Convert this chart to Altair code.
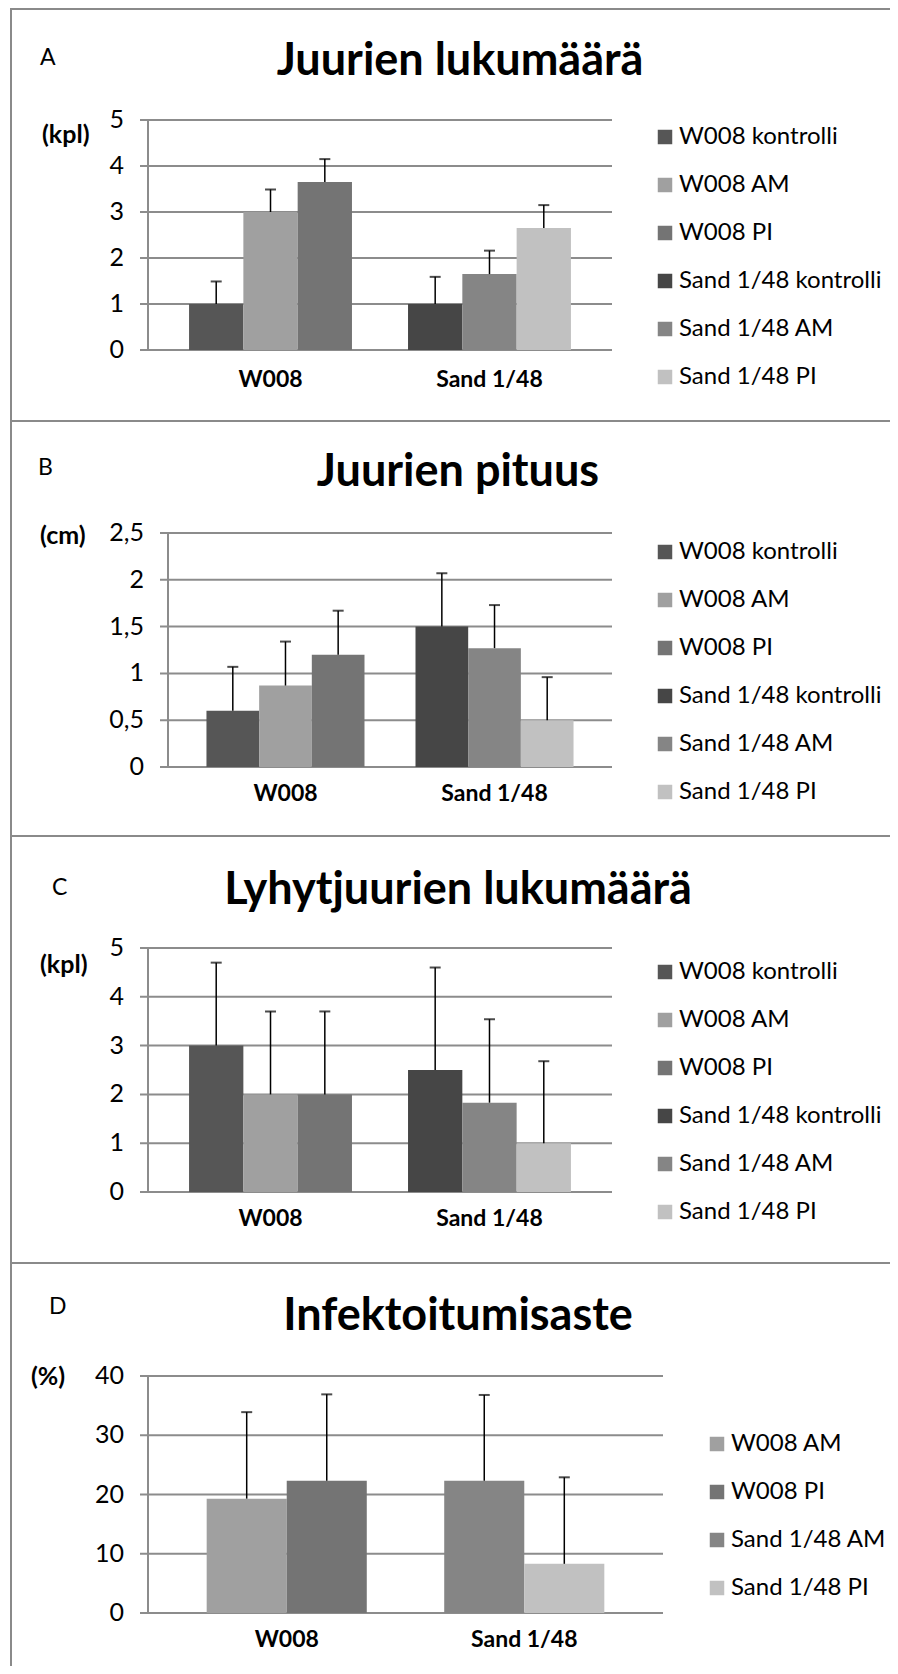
import altair as alt
import pandas as pd

FONT = "Lato"
GRID = "#8c8c8c"
BORDER = "#8a8a8a"

groups = ["W008", "Sand 1/48"]
treat3 = ["kontrolli", "AM", "PI"]
treat2 = ["AM", "PI"]

series6 = ["W008 kontrolli", "W008 AM", "W008 PI",
           "Sand 1/48 kontrolli", "Sand 1/48 AM", "Sand 1/48 PI"]
colors6 = ["#565656", "#a0a0a0", "#747474", "#464646", "#858585", "#c1c1c1"]
series4 = ["W008 AM", "W008 PI", "Sand 1/48 AM", "Sand 1/48 PI"]
colors4 = ["#a0a0a0", "#747474", "#858585", "#c1c1c1"]

# Panel A: Juurien lukumäärä (kpl)
a_values = [1.0, 3.0, 3.65, 1.0, 1.65, 2.65]
a_errors = [0.49, 0.49, 0.5, 0.59, 0.51, 0.5]
a_ticks = [0, 1, 2, 3, 4, 5]
a_labels = ["0", "1", "2", "3", "4", "5"]

# Panel B: Juurien pituus (cm)
b_values = [0.6, 0.87, 1.2, 1.5, 1.27, 0.5]
b_errors = [0.47, 0.47, 0.47, 0.57, 0.46, 0.46]
b_ticks = [0, 0.5, 1, 1.5, 2, 2.5]
b_labels = ["0", "0,5", "1", "1,5", "2", "2,5"]

# Panel C: Lyhytjuurien lukumäärä (kpl)
c_values = [3.0, 2.0, 2.0, 2.5, 1.83, 1.0]
c_errors = [1.7, 1.7, 1.7, 2.1, 1.71, 1.68]
c_ticks = [0, 1, 2, 3, 4, 5]
c_labels = ["0", "1", "2", "3", "4", "5"]

# Panel D: Infektoitumisaste (%)
d_values = [19.3, 22.3, 22.3, 8.3]
d_errors = [14.6, 14.6, 14.5, 14.6]
d_ticks = [0, 10, 20, 30, 40]
d_labels = ["0", "10", "20", "30", "40"]


def panel(letter, title, unit, series, colors, treats, values, errors,
          ticks, labels, ymax, g):
    n = len(treats)
    df = pd.DataFrame({
        "series": series,
        "group": [groups[i // n] for i in range(len(series))],
        "treat": [treats[i % n] for i in range(len(series))],
        "value": values,
        "err": errors,
    })
    df["hi"] = df["value"] + df["err"]

    yscale = alt.Scale(domain=[0, ymax], range=[g["ybot"], g["ytop"]], nice=False, zero=True)
    xscale = alt.Scale(domain=groups, range=[g["x0"], g["x1"]],
                       paddingInner=g["pi"], paddingOuter=g["po"])
    oscale = alt.Scale(domain=treats, paddingInner=0, paddingOuter=0)

    X = alt.X("group:N", scale=xscale, axis=None, sort=groups)
    XO = alt.XOffset("treat:N", scale=oscale, sort=treats)

    tdf = pd.DataFrame({"v": ticks, "lab": labels})
    grid = alt.Chart(tdf).mark_rule(color=GRID, strokeWidth=2).encode(
        y=alt.Y("v:Q", scale=yscale, axis=None),
        x=alt.value(g["x0"] - 8), x2=alt.value(g["x1"]))
    ticklab = alt.Chart(tdf).mark_text(align="right", baseline="middle", font=FONT,
                                       fontSize=25, color="black").encode(
        y=alt.Y("v:Q", scale=yscale, axis=None),
        x=alt.value(g["x0"] - 24), text="lab:N")
    axline = alt.Chart(pd.DataFrame({"a": [0], "b": [ymax]})).mark_rule(
        color=GRID, strokeWidth=2).encode(
        y=alt.Y("a:Q", scale=yscale, axis=None), y2="b:Q", x=alt.value(g["x0"]))

    bars = alt.Chart(df).mark_bar().encode(
        x=X, xOffset=XO,
        y=alt.Y("value:Q", scale=yscale, axis=None),
        color=alt.Color("series:N", sort=series,
                        scale=alt.Scale(domain=series, range=colors),
                        legend=alt.Legend(orient="none", legendX=g["lx"], legendY=g["ly"],
                                          title=None, symbolType="square", symbolSize=210,
                                          symbolStrokeWidth=0, symbolOpacity=1,
                                          labelFont=FONT, labelFontSize=24,
                                          labelColor="black", labelLimit=400,
                                          labelOffset=2, rowPadding=g["rp"], padding=0)))
    errl = alt.Chart(df).mark_rule(color="black", strokeWidth=1.5).encode(
        x=X, xOffset=XO, y=alt.Y("value:Q", scale=yscale, axis=None), y2="hi:Q")
    caps = alt.Chart(df).mark_tick(color="black", thickness=2, size=11).encode(
        x=X, xOffset=XO, y=alt.Y("hi:Q", scale=yscale, axis=None))

    xl = alt.Chart(pd.DataFrame({"group": groups})).mark_text(
        font=FONT, fontSize=23, fontWeight="bold", baseline="middle", color="black").encode(
        x=X, y=alt.value(g["xly"]), text="group:N")

    ttl = alt.Chart(pd.DataFrame({"t": [title]})).mark_text(
        font=FONT, fontSize=45, fontWeight="bold", baseline="alphabetic", align="center",
        color="black").encode(x=alt.value(g["tx"]), y=alt.value(g["ty"]), text="t:N")
    let = alt.Chart(pd.DataFrame({"t": [letter]})).mark_text(
        font=FONT, fontSize=23, baseline="alphabetic", align="left", color="black").encode(
        x=alt.value(g["lex"]), y=alt.value(g["ley"]), text="t:N")
    un = alt.Chart(pd.DataFrame({"t": [unit]})).mark_text(
        font=FONT, fontSize=25, fontWeight="bold", baseline="middle", align="left",
        color="black").encode(x=alt.value(g["ux"]), y=alt.value(g["uy"]), text="t:N")

    bdf = pd.DataFrame({"k": [0]})
    topb = alt.Chart(bdf).mark_rect(color=BORDER, strokeWidth=0).encode(
        x=alt.value(0), x2=alt.value(g["BW"]), y=alt.value(0), y2=alt.value(2))
    leftb = alt.Chart(bdf).mark_rect(color=BORDER, strokeWidth=0).encode(
        x=alt.value(0), x2=alt.value(2), y=alt.value(0), y2=alt.value(g["H"]))

    return alt.layer(grid, bars, axline, ticklab, errl, caps, xl, ttl, let, un,
                     topb, leftb).resolve_scale(color="independent").properties(
        width=g["W"], height=g["H"])


W = 860
BW = 880
geomA = dict(W=W, BW=BW, H=412, x0=138, x1=602, ytop=112, ybot=342, pi=0.256, po=0.1875,
             tx=450, ty=67, lex=30, ley=57, ux=32, uy=127, xly=372,
             lx=643, ly=117, rp=24)
geomB = dict(W=W, BW=BW, H=415, x0=158, x1=602, ytop=113, ybot=347, pi=0.244, po=0.184,
             tx=448, ty=66, lex=28, ley=55, ux=30, uy=116, xly=374,
             lx=643, ly=120, rp=24)
geomC = dict(W=W, BW=BW, H=427, x0=138, x1=602, ytop=113, ybot=357, pi=0.256, po=0.1875,
             tx=448, ty=69, lex=42, ley=60, ux=30, uy=130, xly=384,
             lx=643, ly=125, rp=24)
geomD = dict(W=W, BW=BW, H=404, x0=138, x1=653, ytop=114, ybot=351, pi=0.326, po=0.247,
             tx=448, ty=68, lex=39, ley=52, ux=21, uy=115, xly=378,
             lx=695, ly=170, rp=24)

pA = panel("A", "Juurien lukumäärä", "(kpl)", series6, colors6, treat3,
           a_values, a_errors, a_ticks, a_labels, 5, geomA)
pB = panel("B", "Juurien pituus", "(cm)", series6, colors6, treat3,
           b_values, b_errors, b_ticks, b_labels, 2.5, geomB)
pC = panel("C", "Lyhytjuurien lukumäärä", "(kpl)", series6, colors6, treat3,
           c_values, c_errors, c_ticks, c_labels, 5, geomC)
pD = panel("D", "Infektoitumisaste", "(%)", series4, colors4, treat2,
           d_values, d_errors, d_ticks, d_labels, 40, geomD)

chart = alt.vconcat(pA, pB, pC, pD, spacing=0, bounds="flush").resolve_scale(
    x="independent", y="independent", color="independent", xOffset="independent"
).properties(
    padding={"left": 2, "top": 0, "right": 0, "bottom": 0}
).configure_view(stroke=None, strokeWidth=0)

chart.save("out.html", embed_options={"renderer": "svg", "actions": False})
